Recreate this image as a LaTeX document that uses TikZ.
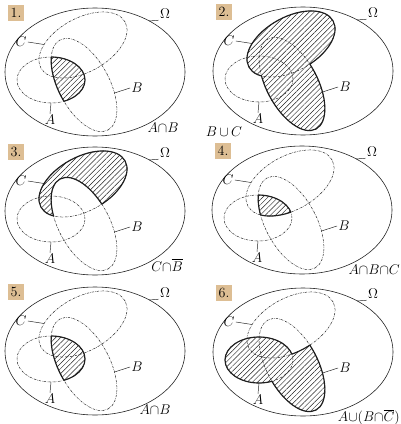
\documentclass[tikz,border=0pt]{standalone}
\usepackage{amsmath,amssymb}
\usetikzlibrary{patterns.meta}
\definecolor{ink}{RGB}{30,30,30}
\definecolor{tagfill}{RGB}{221,190,148}

\begin{document}
\begin{tikzpicture}[
  x=0.03cm, y=0.03cm,
  font=\fontsize{12}{14}\selectfont,
  omega/.style={draw=ink, line width=0.5pt},
  setline/.style={draw=ink, line width=0.4pt, dash pattern=on 2pt off 0.9pt on 0.4pt off 0.9pt},
  border/.style={draw=ink, line width=1pt},
  hatch/.style={pattern={Lines[angle=45, distance=3.1pt, line width=0.4pt]}, pattern color=ink},
  lead/.style={draw=ink, line width=0.4pt},
  lbl/.style={inner sep=1pt},
  tag/.style={fill=tagfill, inner sep=2pt, text height=8pt, text depth=1pt},
  caption/.style={inner sep=0pt},
]
\useasboundingbox (0,0) rectangle (401,-424);
% ---------------------------------------------------------------- sets
\def\pathO{(95,-72) ellipse [x radius=90, y radius=64]}
\def\pathA{(51,-80) ellipse [x radius=34, y radius=23]}
\def\pathB{(84,-85) ellipse [x radius=51, y radius=25.5, rotate=-62]}
\def\pathC{(83,-45) ellipse [x radius=48, y radius=27, rotate=28.7]}
\def\pathOut{(-20,-170) rectangle (220,30)}
% one frame: universe, the three sets, their names and leaders
\def\vennframe#1#2{%
  \draw[omega] \pathO;
  \draw[setline] \pathA;
  \draw[setline] \pathB;
  \draw[setline] \pathC;
  \node[tag] (#1-n) at (16,-13) {#2.};
  \node[lbl] (#1-O) at (165,-14) {$\Omega$};
  \node[lbl] (#1-C) at (21,-42) {$C$};
  \node[lbl] (#1-B) at (137,-88) {$B$};
  \node[lbl] (#1-A) at (50,-120) {$A$};
  \coordinate (#1-o) at (149,-21);
  \coordinate (#1-c) at (44,-44.5);
  \coordinate (#1-b) at (114.5,-93);
  \coordinate (#1-a) at (51,-103);
  \draw[lead] (#1-o) -- (#1-O.south west);
  \draw[lead] (#1-C.east) -- (#1-c);
  \draw[lead] (#1-b) -- (#1-B.west);
  \draw[lead] (#1-a) -- (#1-A.north);
}

% ---------------------------------------------------------------- 1. A cap B
\begin{scope}
  \begin{scope}\clip \pathA; \fill[hatch] \pathB; \end{scope}
  \vennframe{p1}{1}
  \begin{scope}\clip \pathB; \draw[border] \pathA; \end{scope}
  \begin{scope}\clip \pathA; \draw[border] \pathB; \end{scope}
  \node[caption] (p1-cap) at (163,-128) {$A{\cap}B$};
\end{scope}

% ---------------------------------------------------------------- 2. B cup C
\begin{scope}[shift={(208,1)}]
  \fill[hatch] \pathB;
  \begin{scope}[even odd rule]\clip \pathOut \pathB; \fill[hatch] \pathC; \end{scope}
  \vennframe{p2}{2}
  \begin{scope}[even odd rule]\clip \pathOut \pathC; \draw[border] \pathB; \end{scope}
  \begin{scope}[even odd rule]\clip \pathOut \pathB; \draw[border] \pathC; \end{scope}
  \node[caption] (p2-cap) at (16,-133) {$B\,{\cup}\,C$};
\end{scope}

% ---------------------------------------------------------------- 3. C cap not B
\begin{scope}[shift={(0,-139)}]
  \begin{scope}[even odd rule]\clip \pathOut \pathB; \fill[hatch] \pathC; \end{scope}
  \vennframe{p3}{3}
  \begin{scope}[even odd rule]\clip \pathOut \pathB; \draw[border] \pathC; \end{scope}
  \begin{scope}\clip \pathC; \draw[border] \pathB; \end{scope}
  \node[caption] (p3-cap) at (167,-126) {$C{\cap}\overline{B}$};
\end{scope}

% ---------------------------------------------------------------- 4. A cap B cap C
\begin{scope}[shift={(207,-138)}]
  \begin{scope}\clip \pathA; \clip \pathB; \fill[hatch] \pathC; \end{scope}
  \vennframe{p4}{4}
  \begin{scope}\clip \pathB; \clip \pathC; \draw[border] \pathA; \end{scope}
  \begin{scope}\clip \pathA; \clip \pathC; \draw[border] \pathB; \end{scope}
  \begin{scope}\clip \pathA; \clip \pathB; \draw[border] \pathC; \end{scope}
  \node[caption, anchor=east] (p4-cap) at (193,-132) {$A{\cap}B{\cap}C$};
\end{scope}

% ---------------------------------------------------------------- 5. A cap B
\begin{scope}[shift={(0,-279)}]
  \begin{scope}\clip \pathA; \fill[hatch] \pathB; \end{scope}
  \vennframe{p5}{5}
  \begin{scope}\clip \pathB; \draw[border] \pathA; \end{scope}
  \begin{scope}\clip \pathA; \draw[border] \pathB; \end{scope}
  \node[caption] (p5-cap) at (155,-131) {$A{\cap}B$};
\end{scope}

% ---------------------------------------------------------------- 6. A cup (B cap not C)
\begin{scope}[shift={(208,-280)}]
  \fill[hatch] \pathA;
  \begin{scope}[even odd rule]\clip \pathOut \pathC; \clip \pathOut \pathA; \fill[hatch] \pathB; \end{scope}
  \vennframe{p6}{6}
  \begin{scope}[even odd rule]\clip \pathOut \pathB; \draw[border] \pathA; \end{scope}
  \begin{scope}\clip \pathB; \clip \pathC; \draw[border] \pathA; \end{scope}
  \begin{scope}[even odd rule]\clip \pathOut \pathA; \clip \pathOut \pathC; \draw[border] \pathB; \end{scope}
  \begin{scope}[even odd rule]\clip \pathB; \clip \pathOut \pathA; \draw[border] \pathC; \end{scope}
  \node[caption, anchor=east] (p6-cap) at (192,-137) {$A{\cup}(B{\cap}\overline{C})$};
\end{scope}
\end{tikzpicture}
\end{document}
